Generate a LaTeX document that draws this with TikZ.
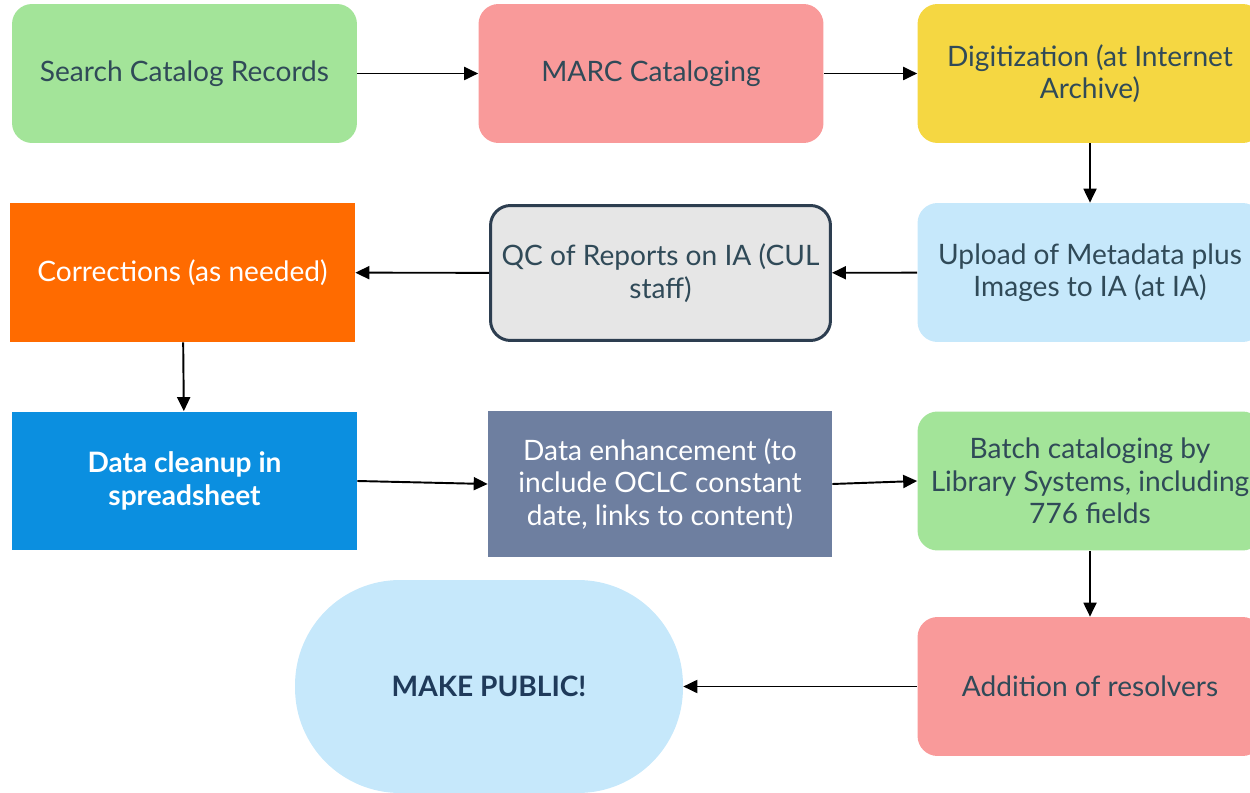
\documentclass[tikz,border=0pt]{standalone}
\usepackage{fontspec}
\setmainfont{Lato}
\usetikzlibrary{arrows.meta}
\definecolor{cgreen}{HTML}{A3E499}
\definecolor{cpink}{HTML}{F99A9A}
\definecolor{cyellow}{HTML}{F5D742}
\definecolor{clblue}{HTML}{C6E8FB}
\definecolor{cgrey}{HTML}{E6E6E6}
\definecolor{cborder}{HTML}{2D3E50}
\definecolor{corange}{HTML}{FF6B00}
\definecolor{cblue}{HTML}{0B8FE0}
\definecolor{cslate}{HTML}{6E7FA0}
\definecolor{ctext}{HTML}{304A58}
\definecolor{cnavy}{HTML}{1F3A5A}
\begin{document}
\begin{tikzpicture}[x=0.02cm,y=-0.02cm,
  box/.style={minimum width=6.9cm, minimum height=2.78cm, align=center,
    font=\fontsize{16}{18.5}\selectfont, text=ctext, inner sep=0pt},
  rbox/.style={box, rounded corners=0.4cm},
  wbox/.style={box, text=white},
  arr/.style={-{Triangle[length=0.28cm,width=0.26cm]}, line width=1.1pt, black}]
\useasboundingbox (0,0) rectangle (1250,793);
\clip (0,0) rectangle (1250,793);
\node[rbox, fill=cgreen] (n1) at (184.5,73.5) {Search Catalog Records};
\node[rbox, fill=cpink] (n2) at (651,73.5) {MARC Cataloging};
\node[rbox, fill=cyellow] (n3) at (1090,73.5) {Digitization (at Internet\\Archive)};
\node[rbox, fill=clblue] (n4) at (1090,272.5) {Upload of Metadata plus\\Images to IA (at IA)};
\node[rbox, fill=cgrey, draw=cborder, line width=1.7pt, minimum width=6.8cm, minimum height=2.7cm] (n5) at (660.5,273) {QC of Reports on IA (CUL\\staff)};
\node[wbox, fill=corange] (n6) at (182.5,272.5) {Corrections (as needed)};
\node[wbox, fill=cblue, font=\fontsize{16}{18.5}\selectfont\bfseries] (n7) at (184.5,481) {Data cleanup in\\spreadsheet};
\node[wbox, fill=cslate, minimum width=6.88cm, minimum height=2.92cm] (n8) at (660,484) {Data enhancement (to\\include OCLC constant\\date, links to content)};
\node[rbox, fill=cgreen] (n9) at (1090,481) {Batch cataloging by\\Library Systems, including\\776 fields};
\node[rbox, fill=cpink] (n10) at (1090,686.5) {Addition of resolvers};
\node[box, fill=clblue, text=cnavy, minimum width=7.76cm, minimum height=4.26cm, rounded corners=2.1cm, font=\fontsize{16}{18.5}\selectfont\bfseries] (n11) at (489,686.5) {MAKE PUBLIC!};
\draw[arr] (n1) -- (n2);
\draw[arr] (n2) -- (n3);
\draw[arr] (n3) -- (n4);
\draw[arr] (n4) -- (n5);
\draw[arr] (n5) -- (n6);
\draw[arr] (n6) -- (n7);
\draw[arr] (n7.east) -- (n8.west);
\draw[arr] (n8.east) -- (n9.west);
\draw[arr] (n9) -- (n10);
\draw[arr] (n10) -- (n11);
\end{tikzpicture}
\end{document}
